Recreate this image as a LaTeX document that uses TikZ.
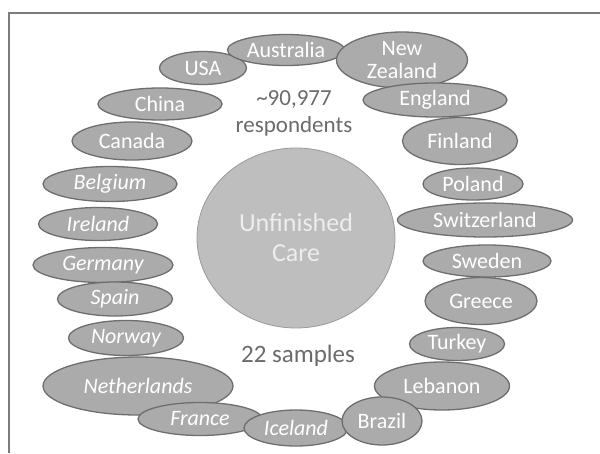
\documentclass[tikz,border=0pt]{standalone}
\usepackage{fontspec}
\setmainfont{Carlito}
\usetikzlibrary{shapes.geometric}

\definecolor{ovalfill}{HTML}{ABABAB}
\definecolor{ovaldraw}{HTML}{6E6E6E}
\definecolor{hubfill}{HTML}{BEBEBE}
\definecolor{hubdraw}{HTML}{9A9A9A}
\definecolor{hubtext}{HTML}{EDEDED}
\definecolor{notetext}{HTML}{6B6B6B}
\definecolor{framegray}{HTML}{7C7C7C}

\tikzstyle{oval}  = [ellipse, inner sep=-10pt, outer sep=0pt, text centered, fill=ovalfill, draw=ovaldraw, line width=1.3pt, text=white, font=\fontsize{22}{23}\selectfont, align=center]
\tikzstyle{slant} = [font=\fontsize{22}{23}\selectfont\itshape]
\tikzstyle{hub}   = [ellipse, inner sep=-10pt, minimum width=198pt, minimum height=180pt, fill=hubfill, draw=hubdraw, line width=0.8pt, text=hubtext, font=\fontsize{26}{30}\selectfont, align=center]
\tikzstyle{note}  = [text=notetext, align=center]

\begin{document}
\begin{tikzpicture}[x=1pt, y=-1pt]
  \useasboundingbox (0,0) rectangle (600,453);
  \draw[framegray, line width=2pt] (9,453) -- (9,13) -- (600,13);

  \node[hub] (care) at (296,238) {Unfinished\\Care};

  \draw
    node[oval, minimum width=124pt, minimum height=32pt] (china) at (160,104) {China}
    node[oval, minimum width=87pt,  minimum height=33pt] (usa) at (203,68) {USA}
    node[oval, minimum width=117pt, minimum height=31pt] (australia) at (286,50) {Australia}
    node[oval, minimum width=131pt, minimum height=56pt] (newzealand) at (402,60) {New\\Zealand}
    node[oval, minimum width=144pt, minimum height=34pt] (england) at (435,100) {England}
    node[oval, minimum width=120pt, minimum height=38pt] (canada) at (132,141) {Canada}
    node[oval, minimum width=115pt, minimum height=47pt] (finland) at (460,141) {Finland}
    node[oval, slant, minimum width=134pt, minimum height=35pt] (belgium) at (110,184) {Belgium}
    node[oval, minimum width=100pt, minimum height=32pt] (poland) at (473,184) {Poland}
    node[oval, minimum width=175pt, minimum height=34pt] (switzerland) at (485,220) {Switzerland}
    node[oval, slant, minimum width=119pt, minimum height=33pt] (ireland) at (98,224) {Ireland}
    node[oval, slant, minimum width=140pt, minimum height=35pt] (germany) at (103,265) {Germany}
    node[oval, minimum width=128pt, minimum height=32pt] (sweden) at (487,261) {Sweden}
    node[oval, slant, minimum width=115pt, minimum height=34pt] (spain) at (115,299) {Spain}
    node[oval, minimum width=112pt, minimum height=47pt] (greece) at (481,301) {Greece}
    node[oval, slant, minimum width=115pt, minimum height=35pt] (norway) at (126,338) {Norway}
    node[oval, minimum width=95pt,  minimum height=33pt] (turkey) at (457,344) {Turkey}
    node[oval, slant, minimum width=190pt, minimum height=58pt] (netherlands) at (138,386) {Netherlands}
    node[oval, slant, minimum width=124pt, minimum height=33pt] (france) at (200,419) {France}
    node[oval, slant, minimum width=104pt, minimum height=36pt] (iceland) at (296,428) {Iceland}
    node[oval, minimum width=135pt, minimum height=48pt] (lebanon) at (442,386) {Lebanon}
    node[oval, minimum width=80pt,  minimum height=48pt] (brazil) at (382,421) {Brazil};

  \node[note, font=\fontsize{23}{27}\selectfont] (respondents) at (294,113) {\textasciitilde 90,977\\respondents};
  \node[note, font=\fontsize{25}{27}\selectfont] (samples) at (298,356) {22 samples};
\end{tikzpicture}
\end{document}
